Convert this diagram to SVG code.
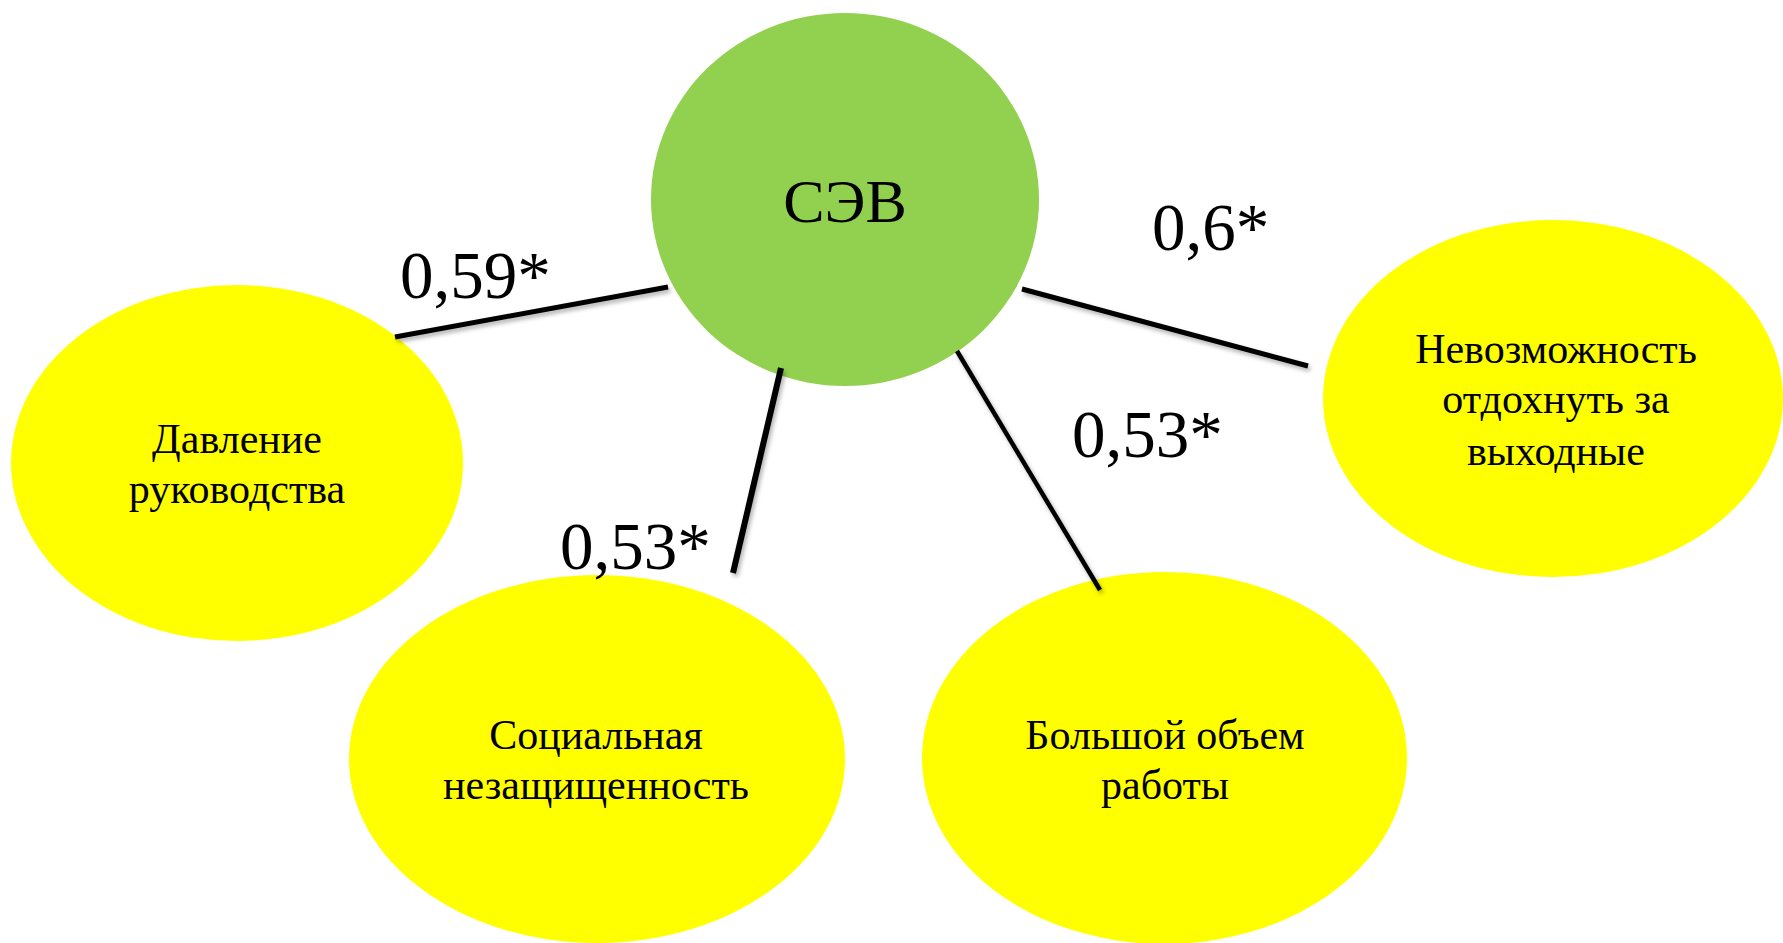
<svg xmlns="http://www.w3.org/2000/svg" width="1783" height="943" viewBox="0 0 1783 943">
<defs>
<filter id="sh" x="-20%" y="-20%" width="140%" height="140%">
<feDropShadow dx="2" dy="3" stdDeviation="2" flood-color="#000" flood-opacity="0.3"/>
</filter>
</defs>
<style>
.y{fill:#FFFF00}
.g{fill:#92D050}
.t{font-family:"Liberation Serif","Times New Roman",serif;fill:#000;text-anchor:middle}
.n{font-size:42px}
.v{font-size:67px;text-anchor:start}
.c{stroke:#000;stroke-linecap:butt;fill:none;filter:url(#sh)}
</style>
<rect width="1783" height="943" fill="#fff"/>
<g id="node-davlenie">
<ellipse class="y" cx="237" cy="463" rx="226" ry="178"/>
<text class="t n" x="237" y="453">Давление</text>
<text class="t n" x="237" y="503">руководства</text>
</g>
<g id="node-social">
<ellipse class="y" cx="597" cy="759" rx="248" ry="184"/>
<text class="t n" x="596" y="749">Социальная</text>
<text class="t n" x="596" y="799">незащищенность</text>
</g>
<g id="node-volume">
<ellipse class="y" cx="1164.5" cy="758" rx="242.5" ry="186"/>
<text class="t n" x="1165" y="749">Большой объем</text>
<text class="t n" x="1165" y="799">работы</text>
</g>
<g id="node-rest">
<ellipse class="y" cx="1553" cy="398.5" rx="230" ry="178.5"/>
<text class="t n" x="1556" y="363">Невозможность</text>
<text class="t n" x="1556" y="413">отдохнуть за</text>
<text class="t n" x="1556" y="465">выходные</text>
</g>
<g id="node-sev">
<ellipse class="g" cx="845" cy="199.5" rx="194" ry="186.5"/>
<text class="t" x="845" y="222" font-size="62">СЭВ</text>
</g>
<g id="connectors">
<line class="c" x1="395" y1="337" x2="668" y2="287" stroke-width="5"/>
<line class="c" x1="781" y1="368" x2="733" y2="573" stroke-width="6"/>
<line class="c" x1="957" y1="351" x2="1100" y2="590" stroke-width="4.5"/>
<line class="c" x1="1022" y1="289" x2="1308" y2="366" stroke-width="5"/>
</g>
<g id="labels">
<text class="t v" x="400" y="298">0,59*</text>
<text class="t v" x="560" y="569">0,53*</text>
<text class="t v" x="1072" y="457">0,53*</text>
<text class="t v" x="1152" y="250">0,6*</text>
</g>
</svg>
